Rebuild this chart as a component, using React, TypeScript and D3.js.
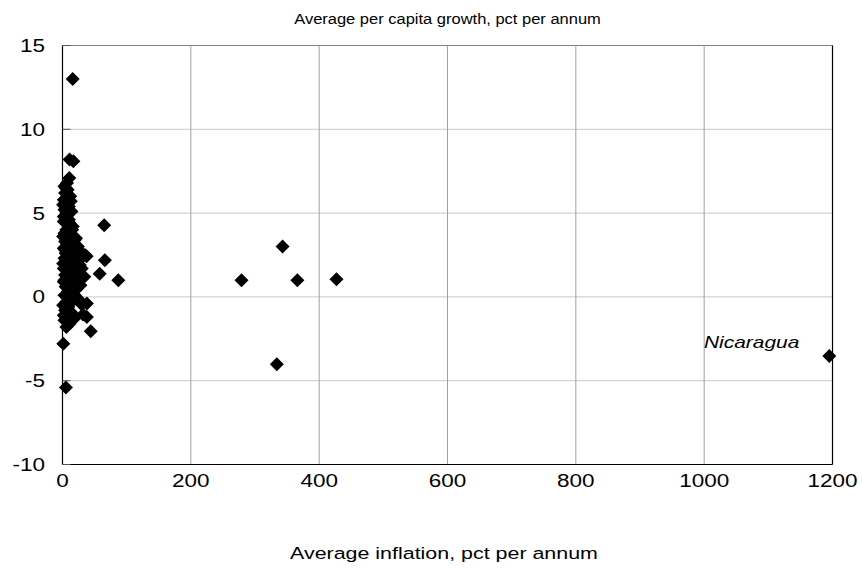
import React from "react";
import * as d3 from "d3";

const inflation: number[] = [
  15.9, 11, 17, 10.6, 7, 3, 8, 4, 12, 2, 6, 10, 3, 14, 8, 5, 2, 11, 16, 6, 3, 9, 13, 19, 4, 7, 24, 2, 11, 15,
  28, 5, 20, 35, 9, 3, 13, 26, 17, 6, 22, 10, 2, 30, 14, 8, 19, 4, 25, 12, 34, 7, 17, 2, 22, 10, 28, 5, 14, 20,
  8, 3, 11, 24, 16, 6, 30, 9, 4, 13, 32, 7, 18, 3, 11, 6, 44, 1.3, 5.4,
  37.6, 65, 66, 58, 87, 38, 38,
  5, 9, 1, 13, 6, 2, 10, 15, 1, 7, 18, 4, 21, 12, 1, 8, 16, 3, 23, 9, 14, 1, 5, 19, 27, 12, 2, 15, 8,
  343, 279, 366, 427, 334, 1195,
];
const growth: number[] = [
  13.0, 8.2, 8.1, 7.1, 6.8, 6.6, 6.4, 6.2, 6.0, 5.8, 5.6, 5.4, 5.2, 5.1, 4.9, 4.7, 4.5, 4.4, 4.2, 4.0, 3.8, 3.7, 3.5, 3.4, 3.3, 3.1, 3.0, 2.9, 2.8, 2.7,
  2.7, 2.6, 2.5, 2.5, 2.4, 2.3, 2.2, 2.2, 2.1, 2.0, 1.9, 1.8, 1.7, 1.7, 1.6, 1.5, 1.4, 1.3, 1.3, 1.2, 1.2, 1.1, 1.0, 0.9, 0.9, 0.8, 0.7, 0.6, 0.5, 0.4,
  0.3, 0.1, 0.0, -0.1, -0.2, -0.3, -0.45, -0.6, -0.8, -0.9, -1.05, -1.1, -1.3, -1.4, -1.6, -1.8, -2.05, -2.8, -5.4,
  2.43, 4.27, 2.19, 1.38, 1.0, -0.4, -1.2,
  6.5, 6.1, 5.5, 5.7, 5.0, 4.8, 4.6, 4.0, 3.6, 3.9, 3.2, 2.8, 3.5, 2.6, 2.0, 2.3, 1.9, 1.0, 1.5, 0.5, 0.9, -0.5, -0.6, 0.1, 1.9, -0.4, -1.1, -1.0, -1.5,
  3.0, 1.0, 1.0, 1.05, -4.02, -3.52,
];
const xTicks: number[] = [0, 200, 400, 600, 800, 1000, 1200];
const yTicks: number[] = [-10, -5, 0, 5, 10, 15];
const labelText = "Nicaragua";
const labelPoint: [number, number] = [1195, -3.52];
const titleText = "Average per capita growth, pct per annum";
const xTitleText = "Average inflation, pct per annum";

const W = 862, H = 572;
const L = 62.5, R = 832.5, T = 45.5, B = 464.5;
const FONT = "'Liberation Sans', Arial, sans-serif";

export default function App() {
  const x = d3.scaleLinear().domain([0, 1200]).range([L, R]);
  const y = d3.scaleLinear().domain([-10, 15]).range([B, T]);
  const diamond = d3.symbol().type(d3.symbolDiamond2).size(125)() as string;
  const pts = inflation.map((v, i) => [v, growth[i]] as [number, number]);
  const tx = (px: number, py: number, sx: number) => `translate(${px},${py}) scale(${sx},1)`;

  return (
    <svg width={W} height={H} style={{ position: "absolute", left: 0, top: 0, background: "#fff" }}>
      {yTicks.filter((t) => t > -10).map((t) => (
        <line key={"gy" + t} x1={L} x2={R} y1={y(t)} y2={y(t)} stroke={t === 15 ? "#808080" : "#c8c8c8"} strokeWidth={1} />
      ))}
      {xTicks.filter((t) => t > 0 && t < 1200).map((t) => (
        <line key={"gx" + t} x1={x(t)} x2={x(t)} y1={T} y2={B} stroke="#a0a0a0" strokeWidth={1} />
      ))}
      <line x1={L} x2={L} y1={T} y2={B} stroke="#000" strokeWidth={1.2} />
      <line x1={L} x2={R} y1={B} y2={B} stroke="#000" strokeWidth={1.2} />
      <line x1={R} x2={R} y1={T} y2={B} stroke="#000" strokeWidth={1.2} />
      {yTicks.map((t) => (
        <line key={"ty" + t} x1={L} x2={L + 8} y1={y(t)} y2={y(t)} stroke="#555" strokeWidth={1} />
      ))}
      {yTicks.map((t) => (
        <text key={"ly" + t} transform={tx(45, y(t) + 6.5, 1.25)} textAnchor="end" fontFamily={FONT} fontSize={18} fill="#000">
          {t}
        </text>
      ))}
      {xTicks.map((t) => (
        <text key={"lx" + t} transform={tx(x(t), 487, 1.25)} textAnchor="middle" fontFamily={FONT} fontSize={18} fill="#000">
          {t}
        </text>
      ))}
      {pts.map((p, i) => (
        <path key={"p" + i} d={diamond} transform={`translate(${x(p[0])},${y(p[1])})`} fill="#000" />
      ))}
      <text transform={tx(x(labelPoint[0]) - 30, y(labelPoint[1]) - 8, 1.23)} textAnchor="end" fontFamily={FONT} fontStyle="italic" fontSize={17} fill="#000">
        {labelText}
      </text>
      <text transform={tx((L + R) / 2, 24, 1.1)} textAnchor="middle" fontFamily={FONT} fontSize={15} fill="#000">
        {titleText}
      </text>
      <text transform={tx(444, 559, 1.26)} textAnchor="middle" fontFamily={FONT} fontSize={17} fill="#000">
        {xTitleText}
      </text>
    </svg>
  );
}
